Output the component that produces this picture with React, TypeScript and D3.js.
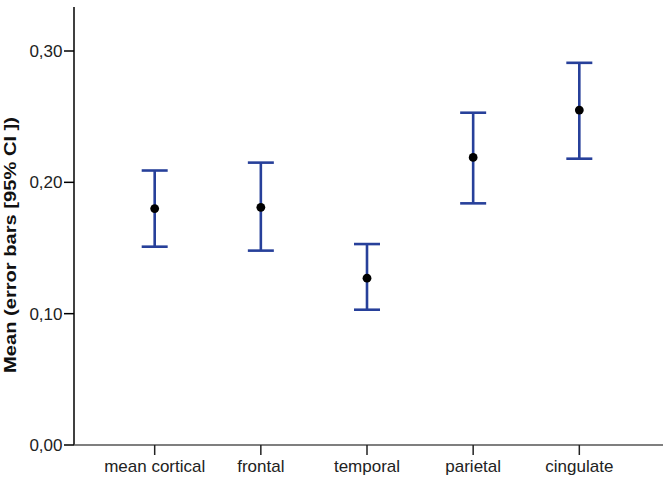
import React from 'react';
import * as d3 from 'd3';

// values (95% CI error bars)
const categories = ['mean cortical', 'frontal', 'temporal', 'parietal', 'cingulate'];
const means = [0.18, 0.181, 0.127, 0.219, 0.255];
const lower = [0.151, 0.148, 0.103, 0.184, 0.218];
const upper = [0.209, 0.215, 0.153, 0.253, 0.291];
const yTicks = [0, 0.1, 0.2, 0.3];

const width = 666;
const height = 482;
const margin = { top: 7, left: 74, right: 6, bottom: 37 };
const barColor = '#27409A';
const font = 'Arial, "Liberation Sans", sans-serif';

export default function App() {
  const x = d3
    .scalePoint<string>()
    .domain(categories)
    .range([margin.left, width - margin.right])
    .padding(0.76);

  const y = d3.scaleLinear().domain([0, 0.3]).range([height - margin.bottom, 51]);

  const fmt = (v: number) => d3.format('.2f')(v).replace('.', ',');
  const capHalf = 13;
  const y0 = y(0);

  return (
    <svg
      width={width}
      height={height}
      style={{ position: 'absolute', left: 0, top: 0, background: '#fff' }}
      fontFamily={font}
    >
      {/* y axis */}
      <line x1={margin.left} x2={margin.left} y1={margin.top} y2={y0} stroke="#000" strokeWidth={1.5} />
      {yTicks.map(t => (
        <g key={t} transform={`translate(0,${y(t)})`}>
          <line x1={margin.left - 10} x2={margin.left} stroke="#000" strokeWidth={1.5} />
          <text x={margin.left - 11.5} dy="0.36em" textAnchor="end" fontSize={17} fill="#222">
            {fmt(t)}
          </text>
        </g>
      ))}
      <text
        transform={`translate(16,245) rotate(-90)`}
        textAnchor="middle"
        fontSize={16}
        fontWeight="bold"
        fill="#111"
        textLength={256}
        lengthAdjust="spacingAndGlyphs"
      >
        Mean (error bars [95% CI ])
      </text>

      {/* x axis */}
      <line x1={margin.left} x2={663} y1={y0} y2={y0} stroke="#555" strokeWidth={1.5} />
      {categories.map(c => (
        <g key={c} transform={`translate(${x(c)},${y0})`}>
          <line y1={0} y2={10} stroke="#222" strokeWidth={1.5} />
          <text y={27} textAnchor="middle" fontSize={17} fill="#222">
            {c}
          </text>
        </g>
      ))}

      {/* error bars */}
      {categories.map((c, i) => {
        const cx = x(c) as number;
        return (
          <g key={c} stroke={barColor} strokeWidth={2.6}>
            <line x1={cx} x2={cx} y1={y(upper[i])} y2={y(lower[i])} />
            <line x1={cx - capHalf} x2={cx + capHalf} y1={y(upper[i])} y2={y(upper[i])} />
            <line x1={cx - capHalf} x2={cx + capHalf} y1={y(lower[i])} y2={y(lower[i])} />
            <circle cx={cx} cy={y(means[i])} r={4.4} fill="#000" stroke="none" />
          </g>
        );
      })}
    </svg>
  );
}
